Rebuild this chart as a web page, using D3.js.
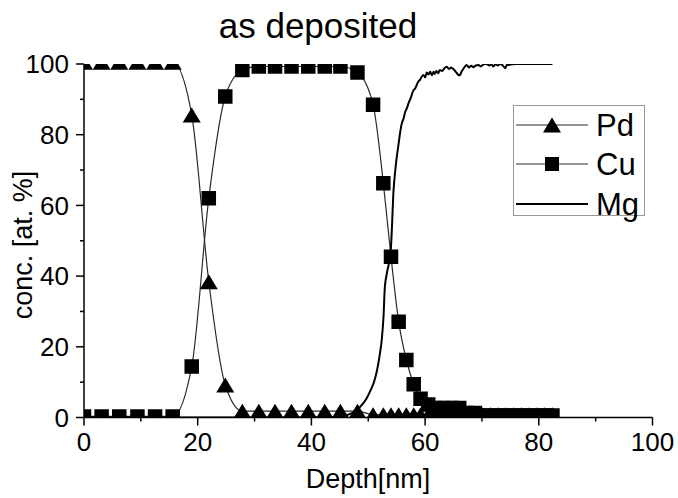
<!DOCTYPE html>
<html><head><meta charset="utf-8">
<script src="https://cdn.jsdelivr.net/npm/d3@7"></script>
<style>body{margin:0;background:#fff}text{font-family:"Liberation Sans",Arial,sans-serif;fill:#000}</style>
</head><body><svg id="c" width="678" height="498"></svg>
<script>
// ---- data ----
const depth = [0, 3.1, 6.2, 9.4, 12.5, 15.6, 18.95, 21.95, 24.85, 27.85, 30.75, 33.6, 36.5, 39.45, 42.35, 45.1, 48.1,
  50.85, 52.65, 54.0, 55.35, 56.7, 58.0, 59.2, 60.55, 61.9, 63.3, 64.65, 66.0, 67.4, 68.75, 70.1, 71.5, 72.85, 74.2,
  75.6, 76.95, 78.3, 79.7, 81.05, 82.4];
const pd = [100.5, 100.5, 100.5, 100.5, 100.5, 100.5, 85.6, 38.4, 9.2, 1.8, 1.8, 1.8, 1.8, 1.8, 1.8, 1.8, 1.8,
  0.8, 0.8, 0.8, 0.8, 0.8, 0.8, 0.8, 0.8, 0.8, 0.8, 0.8, 0.8, 0.8, 0.8, 0.8, 0.8, 0.8, 0.8, 0.8, 0.8, 0.8, 0.8, 0.8, 0.8];
const cu = [0.3, 0.3, 0.3, 0.3, 0.3, 0.3, 14.4, 62.0, 90.8, 98.3, 99.3, 99.3, 99.3, 99.3, 99.3, 99.3, 97.6,
  88.5, 66.3, 45.5, 27.1, 16.3, 9.4, 5.3, 3.7, 2.7, 2.7, 2.7, 2.7, 1.3, 1.3, 0.6, 0.6, 0.6, 0.6, 0.6, 0.6, 0.6, 0.6, 0.6, 0.6];
const mgDepth = [0, 10, 20, 30, 40, 45, 46.5, 48, 49, 49.7, 50.5, 51, 51.5, 52, 52.4, 52.7, 52.9, 53.3, 53.95, 54.2, 54.4,
  54.7, 55.0, 55.3, 55.6, 55.9, 56.2, 56.5, 56.8, 57.1, 57.5, 57.9, 58.3, 58.8, 59.1, 59.4, 59.7, 60.0, 60.3, 60.6, 60.9,
  61.2, 61.5, 61.7, 62.0, 62.3, 62.6, 63.0, 63.4, 63.8, 64.2, 64.6, 65.0, 65.4, 65.8, 66.1, 66.4, 66.8, 67.3, 67.7, 68.1,
  68.5, 68.9, 69.4, 69.8, 70.3, 70.8, 71.3, 71.7, 72.0, 72.4, 72.8, 73.2, 73.6, 74.1, 74.4, 74.8, 75.2, 76.1, 82.4];
const mg = [0, 0, 0, 0, 0, 0.2, 0.8, 2.2, 3.8, 5.4, 8, 10, 13, 17.5, 22.4, 29, 36.5, 41, 47, 55, 62.9,
  69, 73.5, 77, 80.5, 83.2, 84.5, 86.5, 87.5, 89, 90.5, 92.4, 93.2, 95, 95.5, 96.4, 96.9, 96.2, 97.6, 97.0, 97.8,
  96.8, 97.8, 97.2, 98.0, 97.4, 98.3, 98.0, 98.8, 99.2, 98.6, 99.0, 98.5, 97.8, 97.0, 96.8, 97.8, 98.8, 99.7, 99.0, 99.5,
  99.1, 99.6, 99.7, 99.3, 99.9, 100, 99.6, 99.9, 99.3, 99.9, 99.6, 100, 99.7, 98.8, 99.8, 99.7, 99.9, 100, 100];
const xTicks = [0, 20, 40, 60, 80, 100];
const xMinor = [10, 30, 50, 70, 90];
const yTicks = [0, 20, 40, 60, 80, 100];
const yMinor = [10, 30, 50, 70, 90];
const seriesNames = ["Pd", "Cu", "Mg"];

// ---- layout ----
const svg = d3.select("#c");
const L = 84, R = 652.5, T = 64, B = 417.5;
const x = d3.scaleLinear().domain([0, 100]).range([L, R]);
const y = d3.scaleLinear().domain([0, 100]).range([B, T]);

svg.append("defs").append("clipPath").attr("id", "clip")
  .append("rect").attr("x", L).attr("y", T).attr("width", R - L).attr("height", B - T);

const tri = (w, h) => `M0,${-h/2}L${w/2},${h/2}L${-w/2},${h/2}Z`;
const sq = s => `M${-s/2},${-s/2}h${s}v${s}h${-s}Z`;

const plot = svg.append("g").attr("clip-path", "url(#clip)");
const lineGen = (xs, ys) => d3.line().x((d, i) => x(xs[i])).y((d, i) => y(ys[i])).curve(d3.curveMonotoneX)(ys);

plot.append("path").attr("d", lineGen(depth, pd)).attr("fill", "none").attr("stroke", "#2a2a2a").attr("stroke-width", 1.2);
plot.append("path").attr("d", lineGen(depth, cu)).attr("fill", "none").attr("stroke", "#2a2a2a").attr("stroke-width", 1.2);
plot.append("path").attr("d", lineGen(mgDepth, mg)).attr("fill", "none").attr("stroke", "#000").attr("stroke-width", 2);

plot.selectAll(".pd").data(pd).join("path").attr("d", tri(18, 15))
  .attr("transform", (d, i) => `translate(${x(depth[i])},${y(d)})`).attr("fill", "#000");
plot.selectAll(".cu").data(cu).join("path").attr("d", sq(14.5))
  .attr("transform", (d, i) => `translate(${x(depth[i])},${y(d)})`).attr("fill", "#000");

// ---- axes ----
const fs = 26;
const xa = svg.append("g").attr("transform", `translate(0,${B})`);
xa.append("line").attr("x1", L).attr("x2", R).attr("stroke", "#000").attr("stroke-width", 1.5);
xa.selectAll(".mj").data(xTicks).join("line").attr("x1", d => x(d)).attr("x2", d => x(d)).attr("y1", 0).attr("y2", 8).attr("stroke", "#000").attr("stroke-width", 1.5);
xa.selectAll(".mn").data(xMinor).join("line").attr("x1", d => x(d)).attr("x2", d => x(d)).attr("y1", 0).attr("y2", 4).attr("stroke", "#000").attr("stroke-width", 1.5);
xa.selectAll("text").data(xTicks).join("text").attr("x", d => x(d)).attr("y", 33).attr("text-anchor", "middle").attr("font-size", fs).text(d => d);

const ya = svg.append("g").attr("transform", `translate(${L},0)`);
ya.append("line").attr("y1", T).attr("y2", B).attr("stroke", "#000").attr("stroke-width", 1.5);
ya.selectAll(".mj").data(yTicks).join("line").attr("y1", d => y(d)).attr("y2", d => y(d)).attr("x1", 0).attr("x2", -8).attr("stroke", "#000").attr("stroke-width", 1.5);
ya.selectAll(".mn").data(yMinor).join("line").attr("y1", d => y(d)).attr("y2", d => y(d)).attr("x1", 0).attr("x2", -4).attr("stroke", "#000").attr("stroke-width", 1.5);
ya.selectAll("text").data(yTicks).join("text").attr("x", -15).attr("y", d => y(d)).attr("dy", "0.35em").attr("text-anchor", "end").attr("font-size", fs).text(d => d);

svg.append("text").attr("x", 368).attr("y", 488).attr("text-anchor", "middle").attr("font-size", 27).text("Depth[nm]");
svg.append("text").attr("transform", "translate(32,245) rotate(-90)").attr("text-anchor", "middle").attr("font-size", 27).text("conc. [at. %]");
svg.append("text").attr("x", 318).attr("y", 38).attr("text-anchor", "middle").attr("font-size", 35).text("as deposited");

// ---- legend ----
const lg = svg.append("g");
lg.append("rect").attr("x", 513.5).attr("y", 105.5).attr("width", 131).attr("height", 110).attr("fill", "#fff").attr("stroke", "#999").attr("stroke-width", 1);
const rows = [125, 164, 204];
seriesNames.forEach((n, i) => {
  lg.append("line").attr("x1", 516).attr("x2", 588).attr("y1", rows[i]).attr("y2", rows[i]).attr("stroke", i === 2 ? "#000" : "#2a2a2a").attr("stroke-width", i === 2 ? 2 : 1.2);
  if (i === 0) lg.append("path").attr("d", tri(18, 15)).attr("transform", `translate(552,${rows[i]})`).attr("fill", "#000");
  if (i === 1) lg.append("path").attr("d", sq(14)).attr("transform", `translate(552,${rows[i]})`).attr("fill", "#000");
  lg.append("text").attr("x", 596).attr("y", rows[i]).attr("dy", "0.36em").attr("font-size", 31).text(n);
});
</script></body></html>
